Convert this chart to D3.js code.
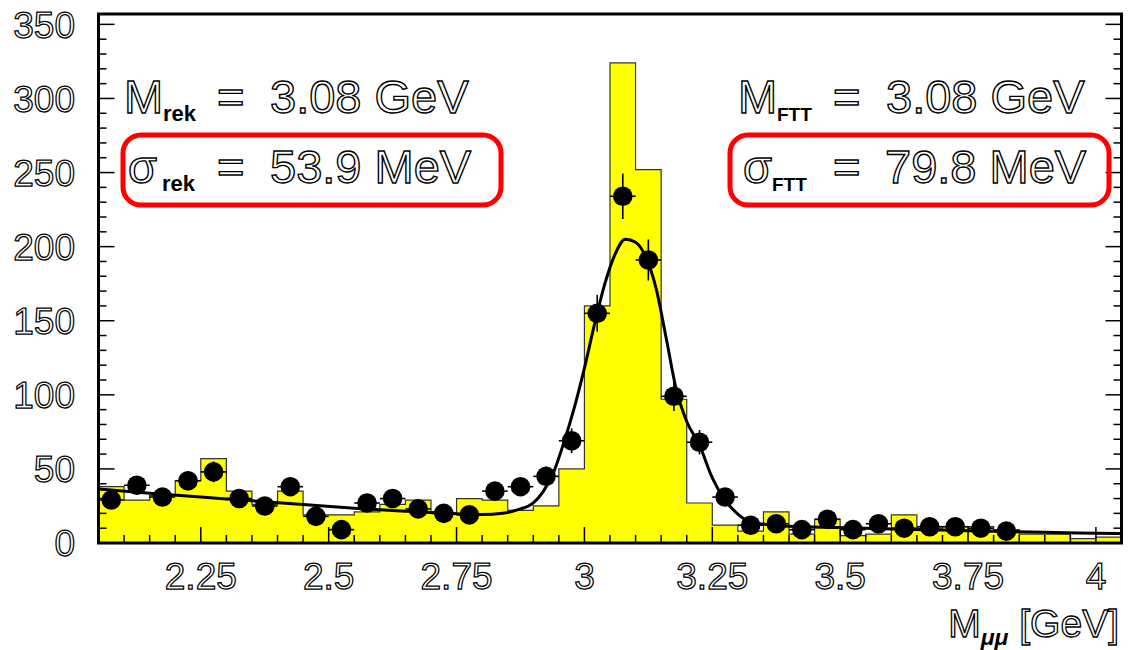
<!DOCTYPE html>
<html>
<head>
<meta charset="utf-8">
<script src="https://cdn.jsdelivr.net/npm/d3@7"></script>
<style>
  html, body { margin: 0; padding: 0; background: #fff; }
  svg text { font-family: "Liberation Sans", "DejaVu Sans", sans-serif; }
</style>
</head>
<body>
<svg id="chart" width="1128" height="650"></svg>
<script>
// ---- data ----
// lower edges of the 0.05 GeV bins
const binLow = [2.05, 2.10, 2.15, 2.20, 2.25, 2.30, 2.35, 2.40, 2.45, 2.50,
                2.55, 2.60, 2.65, 2.70, 2.75, 2.80, 2.85, 2.90, 2.95, 3.00,
                3.05, 3.10, 3.15, 3.20, 3.25, 3.30, 3.35, 3.40, 3.45, 3.50,
                3.55, 3.60, 3.65, 3.70, 3.75, 3.80, 3.85, 3.90, 3.95, 4.00];
const binWidth = 0.05;
// yellow histogram (FTT)
const histCounts = [38, 29, 32, 42, 57, 35, 26, 35, 19, 19,
                    21, 26, 29, 20, 30, 29, 22, 25, 50, 160,
                    324, 252, 97, 27, 12, 8, 21, 6, 16, 5,
                    6, 19, 10, 11, 11, 9, 6, 6, 3, 4];
// reconstructed points (rek), at bin centres
const pointX = [2.075, 2.125, 2.175, 2.225, 2.275, 2.325, 2.375, 2.425, 2.475, 2.525,
                2.575, 2.625, 2.675, 2.725, 2.775, 2.825, 2.875, 2.925, 2.975, 3.025,
                3.075, 3.125, 3.175, 3.225, 3.275, 3.325, 3.375, 3.425, 3.475, 3.525,
                3.575, 3.625, 3.675, 3.725, 3.775, 3.825];
const pointY = [29, 39, 31, 42, 48, 30, 25, 38, 18, 9,
                27, 30, 23, 20, 19, 35, 38, 45, 69, 155,
                234, 191, 99, 68, 31, 12, 13, 9, 16, 9,
                13, 10, 11, 11, 10, 8];
// fit curve
const fitX = [2.05, 2.15, 2.25, 2.35, 2.45, 2.55, 2.65, 2.75, 2.80, 2.84, 2.87, 2.90,
              2.92, 2.94, 2.96, 2.98, 3.00, 3.02, 3.04, 3.06, 3.08, 3.10, 3.12, 3.14,
              3.16, 3.18, 3.20, 3.225, 3.25, 3.275, 3.30, 3.325, 3.36, 3.40, 3.50,
              3.60, 3.70, 3.80, 3.90, 4.00, 4.05];
const fitY = [36.5, 33.5, 31, 28.5, 26, 23.5, 21.5, 19.8, 19.2, 20, 22.5, 27,
              35, 48, 68, 91, 118, 148, 175, 195, 205, 203, 193, 172,
              138, 103, 82, 66, 44, 29, 19.5, 14, 12.3, 11.3, 10.4,
              9.5, 8.7, 7.9, 7.2, 6.6, 6.3];
const xTicks = [2.25, 2.5, 2.75, 3, 3.25, 3.5, 3.75, 4];
const xTickLabels = ["2.25", "2.5", "2.75", "3", "3.25", "3.5", "3.75", "4"];
const yTicks = [0, 50, 100, 150, 200, 250, 300, 350];
const xDomain = [2.05, 4.05];
const yDomain = [0, 357];

// ---- layout ----
const L = 98.5, R = 1121.5, T = 14, B = 543;
const svg = d3.select("#chart");
const x = d3.scaleLinear().domain(xDomain).range([L, R]);
const y = d3.scaleLinear().domain(yDomain).range([B, T]);

svg.append("defs").append("clipPath").attr("id", "frame")
  .append("rect").attr("x", L).attr("y", T).attr("width", R - L).attr("height", B - T);

const plot = svg.append("g").attr("clip-path", "url(#frame)");

// histogram
const histPts = binLow.map((b, i) => ({x: b, v: histCounts[i]}));
histPts.push({x: binLow[binLow.length - 1] + binWidth, v: histCounts[histCounts.length - 1]});
plot.append("path")
  .datum(histPts)
  .attr("d", d3.area().x(d => x(d.x)).y0(y(0)).y1(d => y(d.v)).curve(d3.curveStepAfter))
  .attr("fill", "#ffff00")
  .attr("stroke", "#333")
  .attr("stroke-width", 1.2);

// fit curve
plot.append("path")
  .datum(fitX.map((v, i) => [v, fitY[i]]))
  .attr("d", d3.line().x(d => x(d[0])).y(d => y(d[1])).curve(d3.curveMonotoneX))
  .attr("fill", "none")
  .attr("stroke", "#000")
  .attr("stroke-width", 3);

// points with error bars
const pts = pointX.map((v, i) => ({x: v, v: pointY[i]}));
const eb = plot.append("g").attr("stroke", "#000").attr("stroke-width", 1.6);
eb.selectAll("line.h").data(pts).join("line")
  .attr("x1", d => x(d.x - binWidth / 2)).attr("x2", d => x(d.x + binWidth / 2))
  .attr("y1", d => y(d.v)).attr("y2", d => y(d.v));
eb.selectAll("line.v").data(pts).join("line")
  .attr("x1", d => x(d.x)).attr("x2", d => x(d.x))
  .attr("y1", d => y(d.v - Math.sqrt(d.v))).attr("y2", d => y(d.v + Math.sqrt(d.v)));
plot.append("g").selectAll("circle").data(pts).join("circle")
  .attr("cx", d => x(d.x)).attr("cy", d => y(d.v)).attr("r", 9.8).attr("fill", "#000");

// ---- axes (ROOT style ticks) ----
const axG = svg.append("g").attr("stroke", "#000").attr("stroke-width", 1.5);
d3.range(0, 360, 10).forEach(v => {
  const len = v % 50 === 0 ? 16 : 8;
  axG.append("line").attr("x1", L).attr("x2", L + len).attr("y1", y(v)).attr("y2", y(v));
  axG.append("line").attr("x1", R).attr("x2", R - len).attr("y1", y(v)).attr("y2", y(v));
});
binLow.concat([4.05]).forEach(v => {
  const major = xTicks.some(t => Math.abs(t - v) < 1e-6);
  const len = major ? 16 : 8;
  axG.append("line").attr("x1", x(v)).attr("x2", x(v)).attr("y1", B).attr("y2", B - len);
});

// frame
svg.append("rect").attr("x", L).attr("y", T).attr("width", R - L).attr("height", B - T)
  .attr("fill", "none").attr("stroke", "#000").attr("stroke-width", 3);

const hollow = (sel, w) => sel.attr("fill", "#fff").attr("stroke", "#000")
  .attr("stroke-width", w || 1.35);

// tick labels
svg.append("g").selectAll("text").data(yTicks).join("text")
  .attr("x", 75).attr("y", d => y(d)).attr("dy", "0.36em")
  .attr("text-anchor", "end").attr("font-size", 37).text(d => d)
  .call(hollow, 1.25);
svg.append("g").selectAll("text").data(xTicks).join("text")
  .attr("x", d => x(d)).attr("y", 589)
  .attr("text-anchor", "middle").attr("font-size", 37).text((d, i) => xTickLabels[i])
  .call(hollow, 1.25);

// x title
const xt = svg.append("text").attr("x", 1119).attr("y", 637).attr("text-anchor", "end")
  .attr("font-size", 39).call(hollow, 1.3);
xt.append("tspan").text("M");
xt.append("tspan").attr("dy", 8).attr("font-size", 23).attr("font-weight", "bold")
  .attr("font-style", "italic").attr("fill", "#000").attr("stroke", "none").text("μμ");
xt.append("tspan").attr("dy", -8).text(" [GeV]");

// annotations
function label(x0, base, main, sub, subSize, rest, xs) {
  svg.append("text").attr("x", x0).attr("y", base).attr("font-size", 47).text(main).call(hollow, 1.4);
  svg.append("text").attr("x", xs[0]).attr("y", base + 8).attr("font-size", subSize)
    .attr("font-weight", "bold").attr("fill", "#000").text(sub);
  svg.append("text").attr("x", xs[1]).attr("y", base).attr("font-size", 47).text("=").call(hollow, 1.4);
  svg.append("text").attr("x", xs[2]).attr("y", base).attr("font-size", 47).text(rest).call(hollow, 1.4);
}
label(124, 113, "M", "rek", 22, "3.08 GeV", [163, 217, 270]);
label(128, 183, "σ", "rek", 22, "53.9 MeV", [162, 217, 270]);
label(738, 113, "M", "FTT", 19, "3.08 GeV", [777, 833, 886]);
label(743, 183, "σ", "FTT", 19, "79.8 MeV", [772, 833, 885]);

// red boxes
svg.append("rect").attr("x", 123).attr("y", 135).attr("width", 378).attr("height", 70)
  .attr("rx", 18).attr("fill", "none").attr("stroke", "#ff0000").attr("stroke-width", 5);
svg.append("rect").attr("x", 730).attr("y", 135).attr("width", 379).attr("height", 70)
  .attr("rx", 18).attr("fill", "none").attr("stroke", "#ff0000").attr("stroke-width", 5);
</script>
</body>
</html>
